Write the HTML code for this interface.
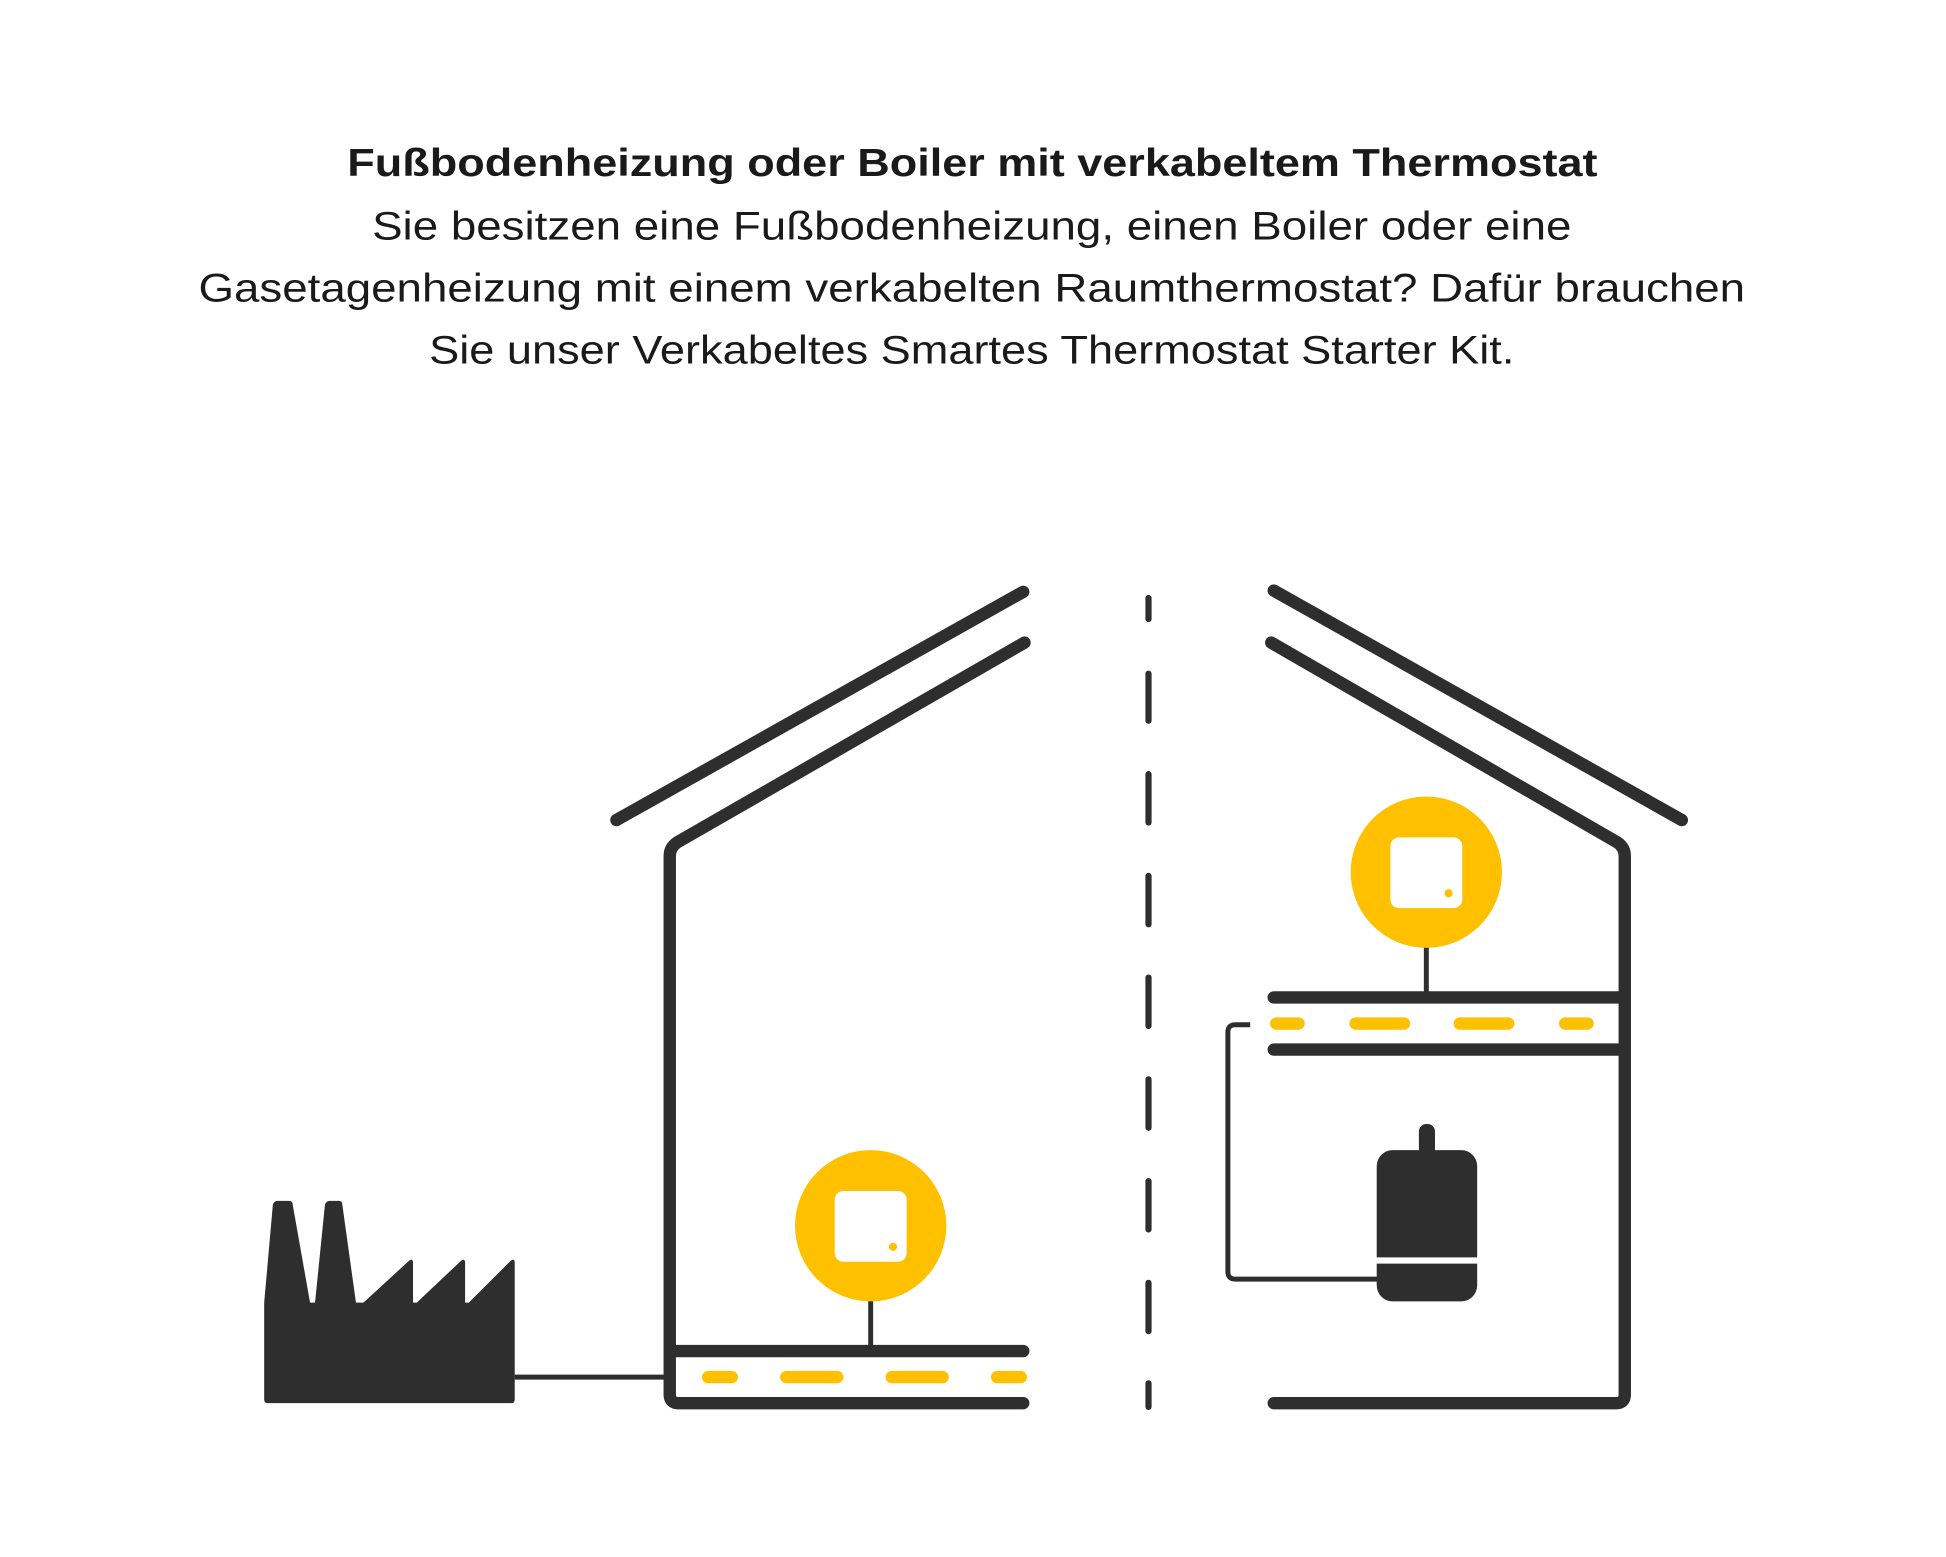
<!DOCTYPE html>
<html><head><meta charset="utf-8"><style>
html,body{margin:0;padding:0;background:#fff;}
svg{display:block;}
</style></head><body>
<svg width="1946" height="1557" viewBox="0 0 1569 1255" preserveAspectRatio="none" xmlns="http://www.w3.org/2000/svg">
<rect width="1569" height="1255" fill="#fff"/>
<g font-family="Liberation Sans, sans-serif" fill="#1a1a1a" text-anchor="start">
<text x="280" y="142" font-size="31" font-weight="bold" textLength="1008" lengthAdjust="spacingAndGlyphs">Fußbodenheizung oder Boiler mit verkabeltem Thermostat</text>
<text x="300" y="193" font-size="32" textLength="967" lengthAdjust="spacingAndGlyphs">Sie besitzen eine Fußbodenheizung, einen Boiler oder eine</text>
<text x="160" y="243" font-size="32" textLength="1247" lengthAdjust="spacingAndGlyphs">Gasetagenheizung mit einem verkabelten Raumthermostat? Dafür brauchen</text>
<text x="346" y="293" font-size="32" textLength="875" lengthAdjust="spacingAndGlyphs">Sie unser Verkabeltes Smartes Thermostat Starter Kit.</text>
</g>
<g stroke="#2d2e2d" stroke-width="10" stroke-linecap="round" stroke-linejoin="round" fill="none">
<line x1="497" y1="661" x2="825" y2="477"/>
<path d="M826 518 L546 679 Q540 683 540 690 L540 1124 Q540 1131 547 1131 L825 1131"/>
<line x1="545" y1="1089" x2="825" y2="1089"/>
<line x1="1027" y1="476" x2="1356" y2="661"/>
<path d="M1025 518 L1304 679 Q1310 683 1310 690 L1310 1124 Q1310 1131 1303 1131 L1027 1131"/>
<line x1="1027" y1="804" x2="1305" y2="804"/>
<line x1="1027" y1="846" x2="1305" y2="846"/>
</g>
<g stroke="#FFC000" stroke-width="10" stroke-linecap="round">
<line x1="571" y1="1110" x2="590" y2="1110"/>
<line x1="634" y1="1110" x2="675" y2="1110"/>
<line x1="719" y1="1110" x2="760" y2="1110"/>
<line x1="804" y1="1110" x2="823" y2="1110"/>
<line x1="1029" y1="825" x2="1047" y2="825"/>
<line x1="1093" y1="825" x2="1132" y2="825"/>
<line x1="1177" y1="825" x2="1216" y2="825"/>
<line x1="1262" y1="825" x2="1280" y2="825"/>
</g>
<g stroke="#2d2e2d" stroke-width="5" stroke-linecap="round">
<line x1="926" y1="482" x2="926" y2="499"/>
<line x1="926" y1="543" x2="926" y2="581"/>
<line x1="926" y1="624" x2="926" y2="663"/>
<line x1="926" y1="706" x2="926" y2="745"/>
<line x1="926" y1="788" x2="926" y2="827"/>
<line x1="926" y1="870" x2="926" y2="909"/>
<line x1="926" y1="952" x2="926" y2="991"/>
<line x1="926" y1="1034" x2="926" y2="1073"/>
<line x1="926" y1="1115" x2="926" y2="1134"/>
</g>
<g stroke="#2d2e2d" stroke-width="4" fill="none">
<line x1="415" y1="1110" x2="538" y2="1110"/>
<line x1="702" y1="1048" x2="702" y2="1087"/>
<line x1="1150" y1="763" x2="1150" y2="802"/>
<path d="M1008 826 L996 826 Q990 826 990 832 L990 1025 Q990 1031 996 1031 L1112 1031"/>
</g>
<circle cx="702" cy="988" r="61" fill="#FFC000"/>
<rect x="673" y="960" width="58" height="57" rx="7" fill="#fff"/>
<circle cx="720" cy="1005" r="3.3" fill="#FFC000"/>
<circle cx="1150" cy="703" r="61" fill="#FFC000"/>
<rect x="1121" y="675" width="58" height="57" rx="7" fill="#fff"/>
<circle cx="1168" cy="720" r="3.3" fill="#FFC000"/>
<rect x="1144" y="906" width="13" height="26" rx="6" fill="#2d2e2d"/>
<rect x="1110" y="927" width="81" height="122" rx="13" fill="#2d2e2d"/>
<line x1="1108" y1="1016" x2="1193" y2="1016" stroke="#fff" stroke-width="5"/>
<path fill="#2d2e2d" d="M213 1050 L220 971 Q221 968 224 968 L233 968 Q236 968 236 971 L250 1050 L254 1050 L262 971 Q263 968 266 968 L273 968 Q276 968 276 971 L287 1050 L293 1050 L330 1016 Q333 1014 333 1018 L333 1050 L336 1050 L372 1016 Q375 1014 375 1018 L375 1050 L378 1050 L412 1016 Q415 1014 415 1018 L415 1128 Q415 1131 412 1131 L216 1131 Q213 1131 213 1128 Z"/>
</svg>
</body></html>
